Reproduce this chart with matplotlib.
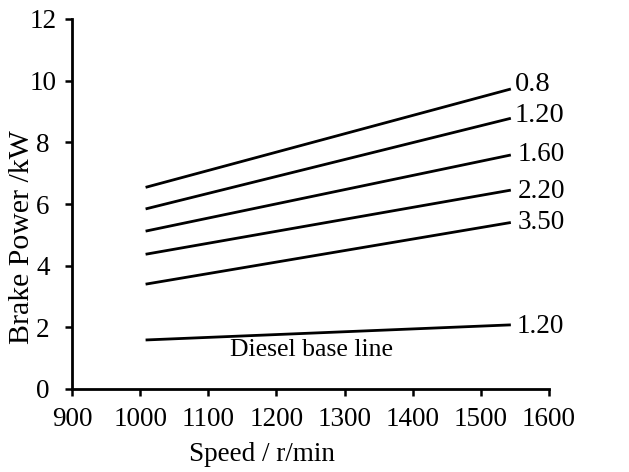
import matplotlib
matplotlib.use("Agg")
import matplotlib.pyplot as plt

plt.rcParams['font.family'] = ['Liberation Serif', 'DejaVu Serif']

# Data
speed = [1008, 1544]
series_labels = ["0.8", "1.20", "1.60", "2.20", "3.50", "1.20"]
power_start = [6.54, 5.84, 5.12, 4.37, 3.40, 1.59]
power_end = [9.73, 8.78, 7.59, 6.45, 5.40, 2.08]
xticks = [900, 1000, 1100, 1200, 1300, 1400, 1500, 1600]
yticks = [0, 2, 4, 6, 8, 10, 12]
base_note = "Diesel base line"
base_note_pos = (1132, 1.27)

# label styling: font sizes and offsets (points) relative to line ends
label_size = [20.5, 20.5, 19.5, 19.5, 19.5, 19.5]
label_dx = [3, 2.5, 5, 5, 5, 4]
label_dy = [3.0, 2.0, 0.7, -0.7, 0, -1]

fig = plt.figure(figsize=(6.29, 4.72), dpi=100)
ax = fig.add_axes([72/629, 1 - 389/472, 477/629, 370/472])

for s0, s1, lab, fs, dx, dy in zip(power_start, power_end, series_labels,
                                   label_size, label_dx, label_dy):
    ax.plot(speed, [s0, s1], color='black', lw=2.0, solid_capstyle='butt')
    ax.annotate(lab, xy=(speed[1], s1), xytext=(dx, dy), textcoords='offset points',
                ha='left', va='center', fontsize=fs)

ax.text(base_note_pos[0], base_note_pos[1], base_note, ha='left', va='center', fontsize=18.5)

ax.set_xlim(900, 1600)
ax.set_ylim(0, 12)
ax.set_xticks(xticks)
ax.set_yticks(yticks)
ax.spines['top'].set_visible(False)
ax.spines['right'].set_visible(False)
for sp in ['left', 'bottom']:
    ax.spines[sp].set_linewidth(2.0)
ax.tick_params(axis='both', direction='out', length=5, width=1.8, labelsize=19.5)
ax.tick_params(axis='x', pad=8)
ax.tick_params(axis='y', pad=16)
for lbl in ax.get_yticklabels():
    lbl.set_horizontalalignment('center')

ax.set_xlabel("Speed / r/min", fontsize=19.5)
ax.set_ylabel("Brake Power /kW", fontsize=21.5)
ax.xaxis.set_label_coords(0.398, -0.143)
ax.yaxis.set_label_coords(-0.078, 0.41)

fig.savefig("out.png", dpi=100)
